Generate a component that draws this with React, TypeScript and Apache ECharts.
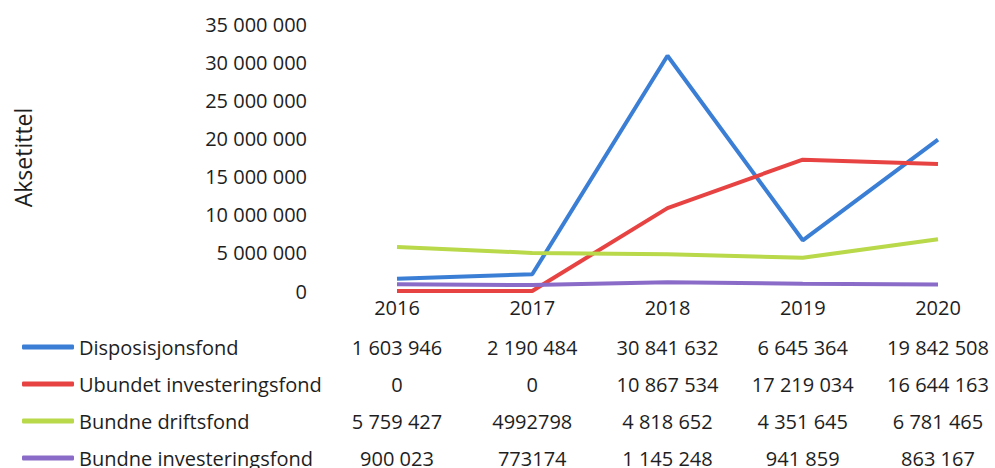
import React, { useEffect, useRef } from "react";
import * as echarts from "echarts";

const categories = ["2016", "2017", "2018", "2019", "2020"];
const seriesNames = [
  "Disposisjonsfond",
  "Ubundet investeringsfond",
  "Bundne driftsfond",
  "Bundne investeringsfond",
];
// Table cells exactly as printed in the data table
const disposisjonsfond = ["1 603 946", "2 190 484", "30 841 632", "6 645 364", "19 842 508"];
const ubundetInvesteringsfond = ["0", "0", "10 867 534", "17 219 034", "16 644 163"];
const bundneDriftsfond = ["5 759 427", "4992798", "4 818 652", "4 351 645", "6 781 465"];
const bundneInvesteringsfond = ["900 023", "773174", "1 145 248", "941 859", "863 167"];
const yTicks = [0, 5000000, 10000000, 15000000, 20000000, 25000000, 30000000, 35000000];
const axisTitle = "Aksetittel";

const tableRows = [disposisjonsfond, ubundetInvesteringsfond, bundneDriftsfond, bundneInvesteringsfond];
const colors = ["#3a7fd5", "#e84343", "#b9d84a", "#8a6cc8"];

const FONT = "'Open Sans', 'Noto Sans', sans-serif";
const TEXT = "#1e1e1e";
const LEGEND_TOP = 337;
const ROW_H = 20;
const ROW_GAP = 17;

const toNum = (s: string) => Number(s.replace(/\s/g, ""));
const fmt = (v: number) => String(Math.round(v)).replace(/\B(?=(\d{3})+(?!\d))/g, " ");

export default function App() {
  const ref = useRef<HTMLDivElement>(null);
  useEffect(() => {
    if (!ref.current) return;
    const chart = echarts.init(ref.current, undefined, { renderer: "svg" });
    chart.setOption({
      animation: false,
      backgroundColor: "#ffffff",
      grid: { left: 397, right: 57, top: 24, bottom: 177 },
      legend: {
        orient: "vertical",
        left: 22,
        top: LEGEND_TOP,
        height: 200,
        padding: 0,
        itemWidth: 52,
        itemHeight: 5,
        itemGap: ROW_GAP,
        icon: "roundRect",
        data: seriesNames,
        textStyle: { fontFamily: FONT, fontSize: 20, color: TEXT, lineHeight: ROW_H },
        selectedMode: false,
      },
      xAxis: {
        type: "category",
        data: categories,
        boundaryGap: false,
        axisLine: { show: false },
        axisTick: { show: false },
        axisLabel: { fontFamily: FONT, fontSize: 20, color: TEXT, margin: 6 },
      },
      yAxis: {
        type: "value",
        min: yTicks[0],
        max: yTicks[yTicks.length - 1],
        interval: yTicks[1] - yTicks[0],
        name: axisTitle,
        nameLocation: "middle",
        nameRotate: 90,
        nameGap: 363,
        nameTextStyle: { fontFamily: FONT, fontSize: 23, color: TEXT },
        axisLine: { show: false },
        axisTick: { show: false },
        splitLine: { show: false },
        axisLabel: {
          fontFamily: FONT,
          fontSize: 20,
          color: TEXT,
          margin: 90,
          formatter: (v: number) => fmt(v),
        },
      },
      series: seriesNames.map((name, i) => ({
        name,
        type: "line",
        data: tableRows[i].map(toNum),
        symbol: "none",
        color: colors[i],
        lineStyle: { width: 4, color: colors[i] },
      })),
    });

    const graphics: any[] = [];
    tableRows.forEach((row, r) => {
      const y = LEGEND_TOP + r * (ROW_H + ROW_GAP) + ROW_H / 2;
      row.forEach((cell, c) => {
        const x = chart.convertToPixel({ xAxisIndex: 0 }, c) as number;
        graphics.push({
          type: "text",
          x,
          y,
          style: {
            text: cell,
            align: "center",
            verticalAlign: "middle",
            font: `20px ${FONT}`,
            fill: TEXT,
          },
        });
      });
    });
    chart.setOption({ graphic: graphics });

    return () => chart.dispose();
  }, []);
  return (
    <div
      ref={ref}
      style={{ position: "fixed", left: 0, top: 0, width: 995, height: 468 }}
    />
  );
}
